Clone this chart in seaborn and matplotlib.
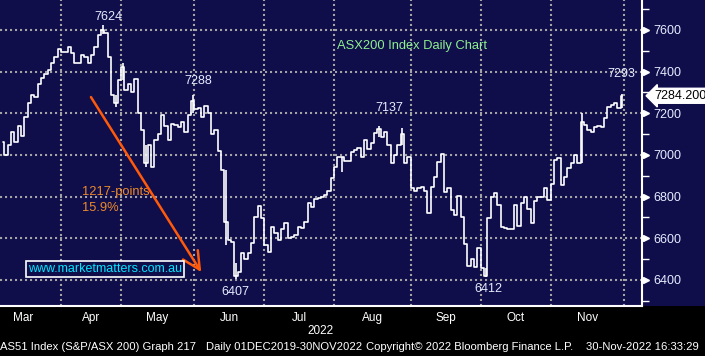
import numpy as np
import pandas as pd
import seaborn as sns
import matplotlib
matplotlib.use('Agg')
import matplotlib.pyplot as plt
import matplotlib.transforms as mtrans
from matplotlib.patches import Rectangle

sns.set_theme(style='dark')
plt.rcParams['font.family'] = ['Liberation Sans', 'DejaVu Sans']

# ASX200 daily closes, one list per month (trading days only)
mar = [7060, 7000, 7050, 7110, 7060, 7140, 7090, 7180, 7250, 7290, 7280, 7340, 7370, 7390, 7410, 7440, 7470, 7510]
apr = [7496, 7496, 7520, 7488, 7440, 7440, 7480, 7470, 7440, 7480, 7520, 7576, 7600, 7584, 7470, 7290, 7250, 7360]
may = [7420, 7310, 7340, 7300, 7365, 7200, 7120, 6960, 7050, 6940, 7070, 7100, 7190, 7140, 7070, 7150, 7145, 7135,
       7160, 7110, 7190, 7260]
jun = [7220, 7225, 7180, 7235, 7200, 7100, 7120, 7020, 6930, 6680, 6590, 6584, 6420, 6440, 6530, 6500, 6530, 6576,
       6700, 6755, 6696]
jul = [6568, 6536, 6656, 6624, 6592, 6643, 6672, 6600, 6608, 6616, 6656, 6650, 6680, 6768, 6752, 6787, 6795, 6800,
       6808, 6829, 6888]
aug = [6944, 6992, 6990, 6971, 6971, 7016, 7024, 7032, 6992, 7072, 7027, 7059, 7104, 7125, 7085, 7112, 7048, 6963,
       7000, 7048, 7100, 6963, 6992]
sep = [6840, 6829, 6840, 6845, 6825, 6723, 6848, 6896, 6968, 7005, 6824, 6840, 6736, 6712, 6803, 6701, 6573, 6467,
       6500, 6464, 6552]
oct_ = [6456, 6420, 6696, 6800, 6816, 6760, 6653, 6650, 6643, 6645, 6760, 6659, 6771, 6797, 6740, 6672, 6779, 6800,
        6800, 6840, 6784]
nov = [6859, 6976, 6984, 6856, 6893, 6936, 6960, 7000, 6960, 7160, 7144, 7120, 7110, 7136, 7140, 7136, 7176, 7229,
       7240, 7248, 7224, 7284]

months = ['Mar', 'Apr', 'May', 'Jun', 'Jul', 'Aug', 'Sep', 'Oct', 'Nov']
month_days = [23, 18, 22, 21, 21, 23, 21, 21, 22]   # trading days per month
mar_hidden = 5                                     # march days left of the chart

# intraday extremes that stick out of the close path: day -> (low, high)
wicks = {30: (7580, 7624), 34: (7232, 7290), 36: (7360, 7440), 43: (6944, 7050), 57: (7200, 7288),
         67: (6568, 6930), 70: (6407, 6480), 102: (6920, 6992), 113: (7085, 7137), 120: (7048, 7130),
         145: (6412, 6456), 174: (6960, 7200), 186: (7224, 7293)}

# labelled levels: text, day, price of label centre
peaks = [('7624', 31.6, 7662), ('7288', 58.8, 7355), ('6407', 69.8, 6342),
         ('7137', 115.9, 7226), ('6412', 145.7, 6357), ('7293', 185.7, 7391)]
last_price = 7284.200

close = mar + apr + may + jun + jul + aug + sep + oct_ + nov
df = pd.DataFrame({'day': np.arange(len(close)), 'close': close})

navy = '#100d4b'
light = '#e6ecff'

fig = plt.figure(figsize=(7.05, 3.56), dpi=100, facecolor='black')
ax = fig.add_axes([0, 50 / 356, 642 / 705, 306 / 356])
ax.set_facecolor(navy)
fig.patches.append(Rectangle((642 / 705, 50 / 356), 63 / 705, 306 / 356, transform=fig.transFigure,
                             facecolor=navy, edgecolor='none', zorder=-1))

sns.lineplot(data=df, x='day', y='close', ax=ax, color='white', lw=1.2, drawstyle='steps-mid', legend=False)
ax.vlines(list(wicks.keys()), [w[0] for w in wicks.values()], [w[1] for w in wicks.values()],
          color='white', lw=1.2)

# month boundaries
bounds = -mar_hidden - 0.5 + np.cumsum(month_days)
starts = np.concatenate([[-mar_hidden - 0.5], bounds[:-1]])
centers = (starts + bounds) / 2

ax.set_xlim(-0.8, 191.9)
ax.set_ylim(6275, 7744)
ax.set_xlabel('')
ax.set_ylabel('')

ax.set_xticks(bounds)
ax.set_xticklabels([''] * len(bounds))
ax.set_xticks(centers, minor=True)
ax.set_xticklabels(months, minor=True)
ax.tick_params(axis='x', which='major', length=3, width=1.2, color='white', direction='out')
ax.tick_params(axis='x', which='minor', length=0, labelsize=8.5, labelcolor='white', pad=4)

yt = np.arange(6400, 7601, 200)
ax.yaxis.tick_right()
ax.set_yticks(yt)
ax.set_yticks(np.arange(6300, 7701, 200), minor=True)
ax.tick_params(axis='y', which='major', length=0, labelsize=9, labelcolor=light, pad=8)
ax.tick_params(axis='y', which='minor', length=5, width=1, color='white', direction='out')
trans = mtrans.blended_transform_factory(ax.transAxes, ax.transData)
ax.plot([1 + 4 / 642] * len(yt), yt, ls='none', marker='>', ms=5, color='white',
        transform=trans, clip_on=False)

ax.grid(True, which='major', color='#a3a3a3', linestyle=(0, (1, 1.4)), lw=1.5)
for s in ['top', 'left']:
    ax.spines[s].set_visible(False)
for s in ['right', 'bottom']:
    ax.spines[s].set_color('white')
    ax.spines[s].set_linewidth(1.5)

# annotations
for txt, d, p in peaks:
    ax.text(d, p, txt, color=light, fontsize=9, ha='center', va='center')
ax.text(122.8, 7521, 'ASX200 Index Daily Chart', color='#8ef08e', fontsize=9.3, ha='center', va='center')
ax.text(23.8, 6822, '1217-points', color='#ec8a2a', fontsize=9.3, ha='left', va='center')
ax.text(23.8, 6746, '15.9%', color='#ec8a2a', fontsize=9.3, ha='left', va='center')
ax.annotate('', xy=(59.6, 6438), xytext=(26.5, 7278),
            arrowprops=dict(arrowstyle='->,head_length=0.9,head_width=0.45', color='#ff5a0a', lw=1.8,
                            shrinkA=0, shrinkB=0, mutation_scale=14))
ax.text(30.7, 6453, 'www.marketmatters.com.au', color='#00e8ff', fontsize=9, ha='center', va='center',
        bbox=dict(boxstyle='square,pad=0.15', fc=navy, ec='white', lw=1.2))
ax.text(1 + 12 / 642, last_price, '%.3f' % last_price, transform=trans, color='black', fontsize=9,
        ha='left', va='center', clip_on=False,
        bbox=dict(boxstyle='larrow,pad=0.12', fc='white', ec='white'))

fig.text(321 / 705, 1 - 331 / 356, '2022', color='white', fontsize=8.5, ha='center', va='center')
foot_y = 1 - 347 / 356
fig.text(0 / 705, foot_y, 'AS51 Index (S&P/ASX 200) Graph 217', color='white', fontsize=8.1, va='center')
fig.text(206 / 705, foot_y, 'Daily 01DEC2019-30NOV2022', color='white', fontsize=8.1, va='center')
fig.text(366 / 705, foot_y, 'Copyright\u00a9 2022 Bloomberg Finance L.P.', color='white', fontsize=8.1, va='center')
fig.text(586 / 705, foot_y, '30-Nov-2022 16:33:29', color='white', fontsize=8.1, va='center')

fig.savefig('out.png', dpi=100, facecolor='black')
